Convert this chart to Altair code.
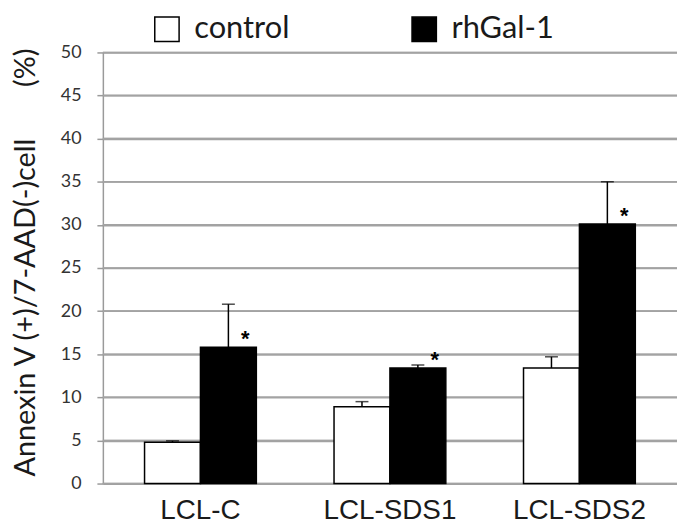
import altair as alt
import pandas as pd

groups = ["LCL-C", "LCL-SDS1", "LCL-SDS2"]
series = ["control", "rhGal-1"]
control_mean = [4.8, 8.9, 13.4]
control_err = [0.15, 0.6, 1.3]
rhgal_mean = [15.8, 13.4, 30.1]
rhgal_err = [5.0, 0.35, 4.9]
control_sig = ["", "", ""]
rhgal_sig = ["*", "*", "*"]
y_ticks = [0, 5, 10, 15, 20, 25, 30, 35, 40, 45, 50]
y_title = "Annexin V (+)/7-AAD(-)cell" + "\u00a0" * 7 + "(%)"

rows = []
for i, g in enumerate(groups):
    rows.append({"group": g, "series": series[0], "mean": control_mean[i],
                 "top": control_mean[i] + control_err[i], "sig": control_sig[i]})
    rows.append({"group": g, "series": series[1], "mean": rhgal_mean[i],
                 "top": rhgal_mean[i] + rhgal_err[i], "sig": rhgal_sig[i]})
df = pd.DataFrame(rows)
grid_df = pd.DataFrame({"gv": y_ticks})

W, H = 578, 434
x_scale = alt.Scale(paddingInner=0.41, paddingOuter=0.22)
y_scale = alt.Scale(domain=[0, 50], nice=False, zero=True)
xo_enc = alt.XOffset("series:N", sort=series, scale=alt.Scale(paddingInner=0, paddingOuter=0))

x_axis = alt.Axis(title=None, labelAngle=0, ticks=False, labelAlign="center",
                  labelFont="Liberation Sans", labelFontSize=28,
                  labelColor="#1a1a1a", labelPadding=35, labelBaseline="alphabetic",
                  domainColor="#9a9a9a", domainWidth=1.5, grid=False)
y_axis = alt.Axis(values=y_ticks, title=y_title, grid=True,
                  gridColor="#a3a3a3", gridWidth=1.6,
                  domainColor="#9a9a9a", domainWidth=1.5,
                  tickColor="#9a9a9a", tickWidth=1.5, tickSize=6,
                  labelFont="Lato", labelFontSize=18, labelColor="#333333",
                  labelPadding=16,
                  titleFont="Lato", titleFontSize=29, titleFontWeight="normal",
                  titleColor="#1a1a1a", titleAngle=270,
                  titleX=-69, titleY=211, titleBaseline="alphabetic",
                  titleAlign="center")

Y = lambda f: alt.Y(f, scale=y_scale, axis=y_axis)
X = lambda: alt.X("group:N", sort=groups, scale=x_scale, axis=x_axis)

grid_rules = alt.Chart(grid_df).mark_rule(color="#a3a3a3", strokeWidth=1.6).encode(
    x=alt.value(0), x2=alt.value(W), y=alt.Y("gv:Q", scale=y_scale, axis=y_axis))

grid_ticks = alt.Chart(grid_df).mark_tick(color="#a3a3a3", thickness=1.6, size=W,
                                          orient="horizontal").encode(
    x=alt.value(W / 2), y=alt.Y("gv:Q", scale=y_scale, axis=y_axis))

bars = alt.Chart(df).mark_bar(stroke="black", strokeWidth=1.5).encode(
    x=X(),
    xOffset=xo_enc,
    y=Y("mean:Q"),
    color=alt.Color("series:N", sort=series,
                    scale=alt.Scale(domain=series, range=["white", "black"]),
                    legend=alt.Legend(title=None, orient="none", direction="horizontal",
                                      legendX=49, legendY=-39, padding=0,
                                      symbolType="square", symbolSize=600,
                                      symbolStrokeColor="black", symbolStrokeWidth=1.5,
                                      labelFont="Lato", labelFontSize=31,
                                      labelColor="#1a1a1a", labelOffset=12,
                                      columnPadding=120)),
)

err = alt.Chart(df).mark_rule(color="black", strokeWidth=1.5).encode(
    x=X(), xOffset=xo_enc, y=Y("mean:Q"), y2="top:Q")

caps = alt.Chart(df).mark_tick(color="black", thickness=1.5, size=13,
                               orient="horizontal").encode(
    x=X(), xOffset=xo_enc, y=Y("top:Q"))

stars = alt.Chart(df).mark_text(font="Liberation Sans", fontSize=22, fontWeight="bold",
                                color="black", dx=17, dy=-1,
                                baseline="alphabetic").encode(
    x=X(), xOffset=xo_enc, y=Y("mean:Q"), text="sig:N")

chart = alt.layer(grid_rules, grid_ticks, bars, err, caps, stars).properties(
    width=W, height=H,
    autosize=alt.AutoSizeParams(type="none"),
    padding={"left": 95.5, "top": 43, "right": 0, "bottom": 42},
).configure_view(stroke=None)

chart.save("out.html", embed_options={"renderer": "svg", "actions": False})
